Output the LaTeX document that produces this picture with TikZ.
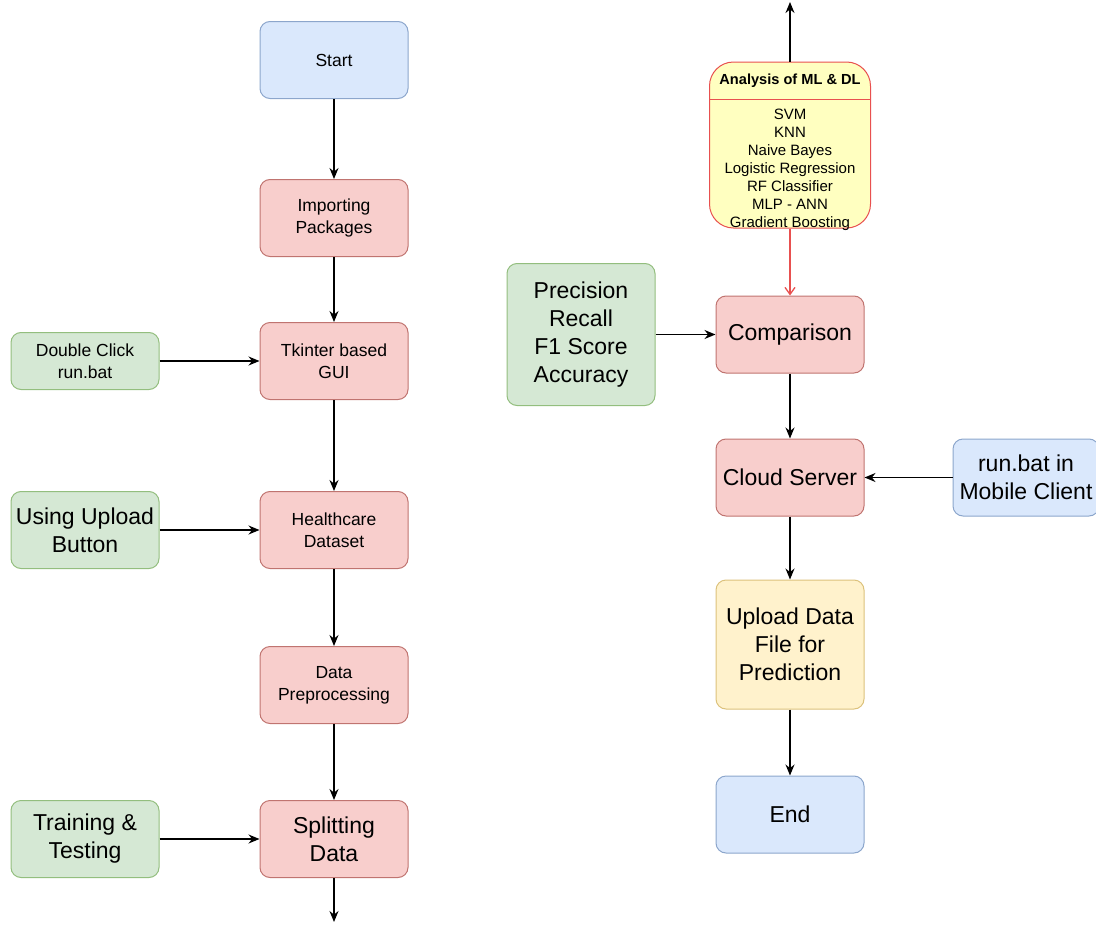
\documentclass[tikz,border=0pt]{standalone}
\usepackage{fontspec}
\setmainfont{Liberation Sans}
\usetikzlibrary{positioning,arrows.meta}

\definecolor{blueFill}{HTML}{DAE8FC}
\definecolor{blueLine}{HTML}{8CA6CC}
\definecolor{redFill}{HTML}{F8CECC}
\definecolor{redLine}{HTML}{C07470}
\definecolor{greenFill}{HTML}{D5E8D4}
\definecolor{greenLine}{HTML}{93BE7E}
\definecolor{yellowFill}{HTML}{FFF2CC}
\definecolor{yellowLine}{HTML}{DCC27C}
\definecolor{mlFill}{HTML}{FFFFC0}
\definecolor{mlLine}{HTML}{E8504F}

\begin{document}
\begin{tikzpicture}[x=1pt, y=-1pt,
  box/.style={rectangle, line width=1pt, rounded corners=10pt, text centered,
              align=center, minimum width=148pt, minimum height=77pt, inner sep=2pt},
  startend/.style={box, draw=blueLine, fill=blueFill},
  process/.style={box, draw=redLine, fill=redFill},
  inputbox/.style={box, draw=greenLine, fill=greenFill},
  outbox/.style={box, draw=yellowLine, fill=yellowFill},
  mlbox/.style={rectangle, draw=mlLine, fill=mlFill, line width=1pt, rounded corners=24pt,
                minimum width=161pt, minimum height=166pt},
  small/.style={font=\fontsize{17.5}{22}\selectfont},
  large/.style={font=\fontsize{23}{28}\selectfont},
  flow/.style={draw, -{Stealth[length=11pt,width=9pt]}, line width=1.4pt},
  mlflow/.style={draw=mlLine, -{Straight Barb[length=7pt,width=10pt]}, line width=1.3pt}
]
\useasboundingbox (0,0) rectangle (1096,926);

% ==========================================================
% Left column
% ==========================================================
\node[startend, small] (start) at (334,60) {Start};
\node[process, small, below=80pt of start] (imports) {Importing\\Packages};
\node[process, small, below=65pt of imports] (gui) {Tkinter based\\GUI};
\node[process, small, below=91pt of gui] (dataset) {Healthcare\\Dataset};
\node[process, small, below=77pt of dataset] (preproc) {Data\\Preprocessing};
\node[process, large, below=76pt of preproc] (split) {Splitting\\Data};
\coordinate (splitout) at (334,922);

\node[inputbox, small, left=100pt of gui, minimum height=57pt] (runbat) {Double Click\\run.bat};
\node[inputbox, large, left=100pt of dataset] (upload) {Using Upload\\Button};
\node[inputbox, large, left=100pt of split] (train) {Training \&\\Testing};

% ==========================================================
% Right column
% ==========================================================
\node[mlbox] (analysis) at (790,145) {};
\node[font=\fontsize{14.6}{18}\selectfont\bfseries, anchor=center] (mltitle)
  at ([yshift=-19pt]analysis.north) {Analysis of ML \& DL};
\draw[mlLine, line width=1pt] ([yshift=-38pt]analysis.north west) -- ([yshift=-38pt]analysis.north east);
\node[font=\fontsize{15}{18}\selectfont, align=center, anchor=north, inner sep=0pt] (mllist)
  at ([yshift=-47pt]analysis.north) {SVM\\KNN\\Naive Bayes\\Logistic Regression\\RF Classifier\\MLP - ANN\\Gradient Boosting};
\coordinate (mlout) at (790,2);

\node[process, large, below=67pt of analysis] (compare) {Comparison};
\node[inputbox, large, left=60pt of compare, minimum height=142pt] (metrics) {Precision\\Recall\\F1 Score\\Accuracy};
\node[process, large, below=65pt of compare] (cloud) {Cloud Server};
\node[startend, large, right=88pt of cloud, minimum width=146pt] (mobile) {run.bat in\\Mobile Client};
\node[outbox, large, below=63pt of cloud, minimum height=129pt] (predict) {Upload Data\\File for\\Prediction};
\node[startend, large, below=66pt of predict] (finish) {End};

% ==========================================================
% Connectors
% ==========================================================
\draw[flow] (start) -- (imports);
\draw[flow] (imports) -- (gui);
\draw[flow] (gui) -- (dataset);
\draw[flow] (dataset) -- (preproc);
\draw[flow] (preproc) -- (split);
\draw[flow] (split) -- (splitout);
\draw[flow] (runbat) -- (gui);
\draw[flow] (upload) -- (dataset);
\draw[flow] (train) -- (split);

\draw[flow] (analysis) -- (mlout);
\draw[mlflow] (analysis) -- (compare);
\draw[flow] (metrics) -- (compare);
\draw[flow] (compare) -- (cloud);
\draw[flow] (mobile) -- (cloud);
\draw[flow] (cloud) -- (predict);
\draw[flow] (predict) -- (finish);

\end{tikzpicture}
\end{document}
